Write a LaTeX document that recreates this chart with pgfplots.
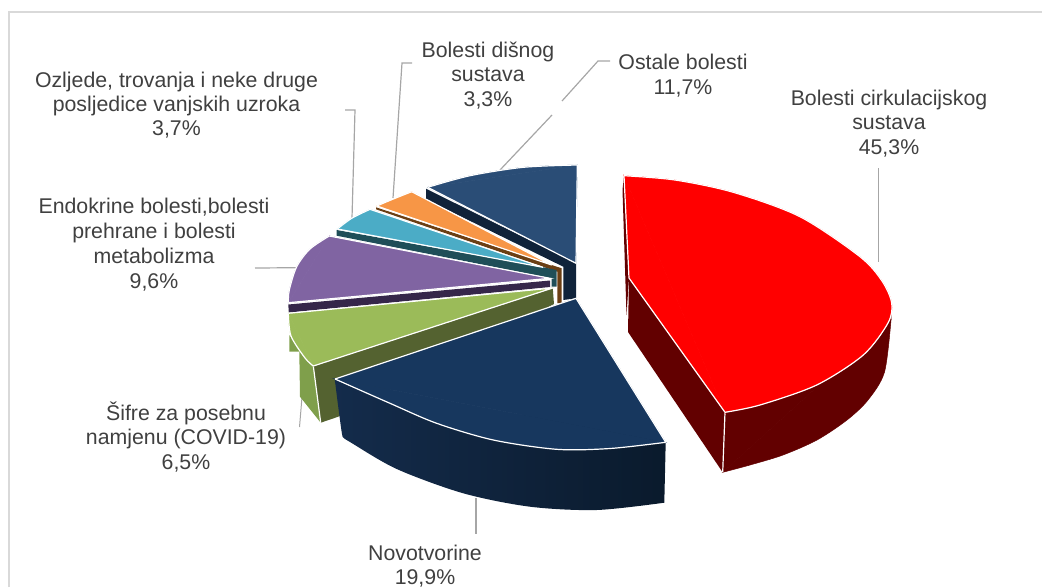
\documentclass[border=0pt]{standalone}
\usepackage{fontspec}
\setmainfont{Liberation Sans}
\usepackage{pgfplots}
\pgfplotsset{compat=1.18}

% colours
\definecolor{txt}{HTML}{404040}
\definecolor{leader}{HTML}{A6A6A6}
\definecolor{frame}{HTML}{D9D9D9}
\definecolor{redtop}{HTML}{FF0000}
\definecolor{redwall}{HTML}{620000}
\definecolor{navytop}{HTML}{17375E}
\definecolor{navyL}{HTML}{142C4C}
\definecolor{navyR}{HTML}{0A1A2C}
\definecolor{greentop}{HTML}{9BBB59}
\definecolor{greenwall}{HTML}{7F9F4B}
\definecolor{olive}{HTML}{546230}
\definecolor{purpletop}{HTML}{8064A2}
\definecolor{purplewall}{HTML}{35264A}
\definecolor{tealtop}{HTML}{4BACC6}
\definecolor{tealwall}{HTML}{1F4E58}
\definecolor{orangetop}{HTML}{F79646}
\definecolor{brownwall}{HTML}{6B3F14}
\definecolor{bluetop}{HTML}{2A4D76}
\definecolor{bluewall}{HTML}{10233A}

\begin{document}
\begin{tikzpicture}[
    lbl/.style={anchor=base, inner sep=0pt, text=txt,
                font=\fontsize{21.3}{24.5}\selectfont},
]
\path[use as bounding box] (0,0) rectangle (1042pt,587pt);

\begin{axis}[
    at={(0,0)}, anchor=south west,
    scale only axis, width=1042pt, height=587pt,
    xmin=0, xmax=1042, ymin=0, ymax=587,
    y dir=reverse,
    hide axis,
    clip=false,
    every axis plot/.append style={no markers},
    part/.style={fill=#1, draw=#1, line width=0.5pt},
    wall/.style={fill=#1, draw=none},
    sep/.style={draw=white, line width=1.2pt},
    lead/.style={draw=leader, line width=1.2pt},
]

% chart frame, open at the right and at the bottom
\addplot[draw=frame, line width=1.2pt] coordinates {(9,587) (9,12) (1042,12)};

% leader lines
\addplot[lead] coordinates {(878.5,168) (878.5,262)};
\addplot[lead] coordinates {(476,498) (476,534)};
\addplot[lead, line width=1pt] coordinates {(302,397) (299.5,427)};
\addplot[lead] coordinates {(255,268) (297,267.7)};
\addplot[lead] coordinates {(345,110) (355,110) (352,218)};
\addplot[lead] coordinates {(412,63) (402,63) (393,198)};
\addplot[lead] coordinates {(500,170) (552,115)};
\addplot[lead] coordinates {(562,101) (598,61) (610,61)};

% Bolesti cirkulacijskog sustava
\addplot[wall=redwall] coordinates {(624,176) (622.5,190) (626.5,315) (629,278)} -- cycle;
\addplot[wall=redwall] coordinates {(629,278) (628,332) (722.7,472.3) (725,412.3)} -- cycle;
\addplot[part=redwall, smooth] coordinates {(891,320) (884.5,372) (868,400) (847,420) (817,440)
    (783,455) (750,465) (722.7,472.3)} -- cycle;
\addplot[part=redwall] coordinates {(725,412.3) (722.7,472.3) (891,320) (891.7,301.7)} -- cycle;
\addplot[sep] coordinates {(725,412.3) (722.7,472.3)};
\addplot[part=redtop] coordinates {(624,175.7) (629,278) (725,412.3)} -- cycle;
\addplot[part=redtop, smooth] coordinates {(624,175.7) (675,180) (733.3,192.3) (800,216.7)
    (860,256.7) (882,281) (891.7,303) (888,323) (863.3,355) (816.7,385) (760,405) (725,412.3)} -- cycle;
\addplot[sep, smooth] coordinates {(624,175.7) (675,180) (733.3,192.3) (800,216.7)
    (860,256.7) (882,281) (891.7,303) (888,323) (863.3,355) (816.7,385) (760,405) (725,412.3)};
\addplot[sep] coordinates {(624,175.7) (629,278) (725,412.3)};

% Ostale bolesti
\addplot[wall=bluewall] coordinates {(426,188.7) (426,199.3) (563.3,266.7) (563.3,300)
    (576,298.3) (576,263.3)} -- cycle;
\addplot[part=bluetop] coordinates {(427.7,187.3) (576,263.3) (577.3,165)} -- cycle;
\addplot[part=bluetop, smooth] coordinates {(427.7,187.3) (470,175.7) (523.3,167.3) (577.3,165)} -- cycle;
\addplot[sep, smooth] coordinates {(427.7,187.3) (470,175.7) (523.3,167.3) (577.3,165)};
\addplot[sep] coordinates {(427.7,187.3) (576,263.3) (577.3,165)};

% Bolesti disnog sustava
\addplot[wall=brownwall] coordinates {(376,207.3) (376,209.3) (557.3,271.7) (557.3,303.3)
    (561.7,302.7) (561.7,268.3) (551.7,265)} -- cycle;
\addplot[part=orangetop] coordinates {(376.7,206) (551.7,265) (411.7,191.7)} -- cycle;
\addplot[sep] coordinates {(411.7,191.7) (551.7,265) (376.7,206)};
\addplot[sep, smooth] coordinates {(376.7,206) (393.3,199) (411.7,191.7)};

% Ozljede, trovanja
\addplot[wall=tealwall] coordinates {(336.7,230) (336.7,235.7) (551.7,278.3) (551.7,286.7)
    (556.7,286.7) (556.7,270) (543.3,267.3)} -- cycle;
\addplot[part=tealtop] coordinates {(337.3,229) (543,267.3) (370,209.3)} -- cycle;
\addplot[part=tealtop, smooth] coordinates {(337.3,229) (351.7,218.3) (370,209.3)} -- cycle;
\addplot[sep] coordinates {(370,209.3) (543,267.3) (337.3,229)};
\addplot[sep, smooth] coordinates {(337.3,229) (351.7,218.3) (370,209.3)};

% Endokrine bolesti
\addplot[wall=purplewall] coordinates {(288.3,304.5) (550,280.5) (550,287) (288.8,312.5)} -- cycle;
\addplot[part=purpletop] coordinates {(288.3,302.7) (550,278.3) (329.3,236)} -- cycle;
\addplot[part=purpletop, smooth] coordinates {(288.3,302.7) (289.3,290) (296.7,266.7) (310,249) (329.3,236)} -- cycle;
\addplot[sep] coordinates {(329.3,236) (550,278.3) (288.3,302.7)};
\addplot[sep, smooth] coordinates {(288.3,302.7) (289.3,290) (296.7,266.7) (310,249) (329.3,236)};

% Sifre za posebnu namjenu
\addplot[wall=olive] coordinates {(552.7,287.5) (554,304) (338.3,416.7) (320.7,422.7) (313.3,366)} -- cycle;
\addplot[wall=greenwall] coordinates {(289.3,335) (289.3,351.7) (299.3,351.7) (300,396.7)
    (320.7,422.7) (313.3,366)} -- cycle;
\addplot[sep] coordinates {(313.3,366) (320.7,422.7)};
\addplot[part=greentop] coordinates {(288.3,313.3) (552.7,288) (313.3,366)} -- cycle;
\addplot[part=greentop, smooth] coordinates {(288.3,313.3) (291,336) (305,358) (313.3,366)} -- cycle;
\addplot[sep, smooth] coordinates {(288.3,313.3) (291,336) (305,358) (313.3,366)};
\addplot[sep] coordinates {(313.3,366) (552.7,288) (288.3,313.3)};

% Novotvorine: the wall is one shaded path, its upper run hidden under the top face
\addplot[left color=navyL, right color=navyR, draw=none, smooth] coordinates {(664.3,502.7)
    (596.7,510) (530,506.7) (463.3,493.3) (396.7,469) (350,442) (344,438) (342,434)
    (338,405) (335.5,385) (335,379) (340,380) (450,405) (600,425) (660,441) (665.7,442.3)} -- cycle;
\addplot[part=navytop] coordinates {(576,298.3) (665.7,442.3) (335,379)} -- cycle;
\addplot[part=navytop, smooth] coordinates {(665.7,442.3) (610,448.5) (556.7,449.3) (493.3,440)
    (436.7,423.3) (390,403.3) (335,379)} -- cycle;
\addplot[sep, smooth] coordinates {(665.7,442.3) (610,448.5) (556.7,449.3) (493.3,440)
    (436.7,423.3) (390,403.3) (335,379)};
\addplot[sep] coordinates {(335,379) (576,298.3) (665.7,442.3)};

% data labels, one node per line
\node[lbl] at (axis cs:176.5,87) {Ozljede, trovanja i neke druge};
\node[lbl] at (axis cs:176.5,111) {posljedice vanjskih uzroka};
\node[lbl] at (axis cs:176.5,135.5) {3,7\%};

\node[lbl] at (axis cs:488,57) {Bolesti dišnog};
\node[lbl] at (axis cs:488,81.5) {sustava};
\node[lbl] at (axis cs:488,106) {3,3\%};

\node[lbl] at (axis cs:683,69) {Ostale bolesti};
\node[lbl] at (axis cs:683,94) {11,7\%};

\node[lbl] at (axis cs:889,105) {Bolesti cirkulacijskog};
\node[lbl] at (axis cs:889,129) {sustava};
\node[lbl] at (axis cs:889,154) {45,3\%};

\node[lbl] at (axis cs:154,213) {Endokrine bolesti,bolesti};
\node[lbl] at (axis cs:154,238) {prehrane i bolesti};
\node[lbl] at (axis cs:154,263) {metabolizma};
\node[lbl] at (axis cs:154,288) {9,6\%};

\node[lbl] at (axis cs:186,420) {Šifre za posebnu};
\node[lbl] at (axis cs:186,444) {namjenu (COVID-19)};
\node[lbl] at (axis cs:186,469) {6,5\%};

\node[lbl] at (axis cs:425,560) {Novotvorine};
\node[lbl] at (axis cs:425,584) {19,9\%};

\end{axis}
\end{tikzpicture}
\end{document}
